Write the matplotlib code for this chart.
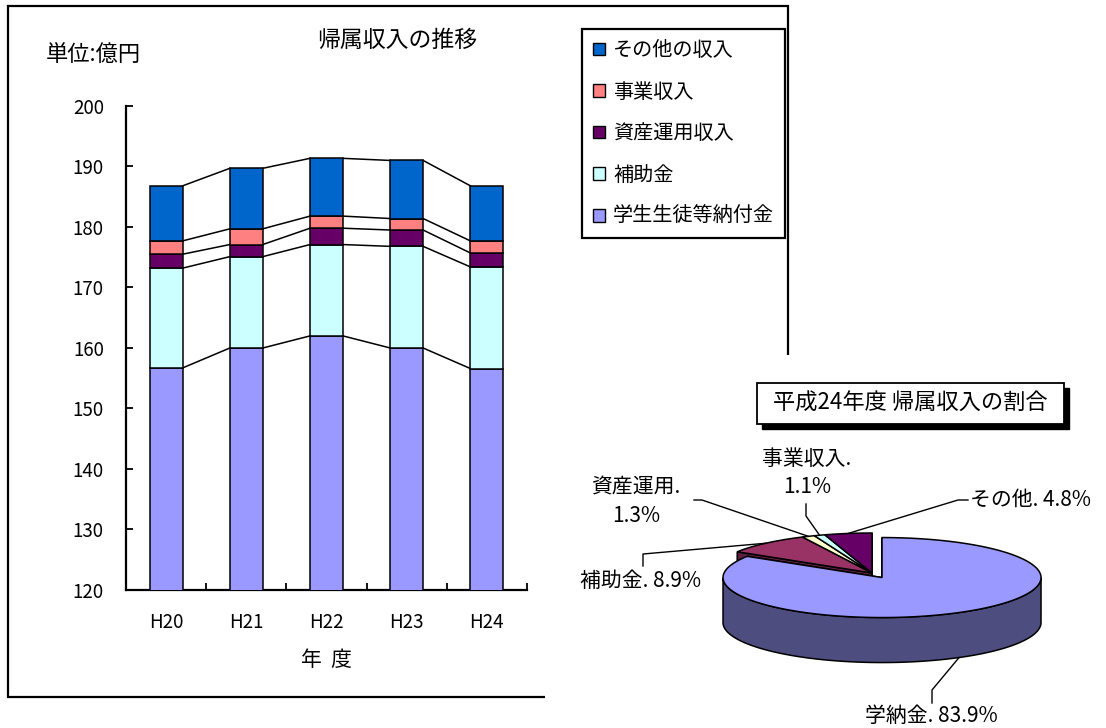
import matplotlib
matplotlib.use('Agg')
import matplotlib.pyplot as plt
import numpy as np
from matplotlib.patches import Polygon, Rectangle
from matplotlib.colors import to_rgb

plt.rcParams['font.family'] = ['Noto Sans CJK JP', 'DejaVu Sans']

# ---------------- data ----------------
years = ['H20', 'H21', 'H22', 'H23', 'H24']
series_names = ['学生生徒等納付金', '補助金', '資産運用収入', '事業収入', 'その他の収入']
tuition = [156.7, 160.0, 162.0, 160.0, 156.6]
subsidy = [16.5, 15.1, 15.1, 16.8, 16.8]
asset = [2.3, 2.0, 2.7, 2.7, 2.3]
business = [2.2, 2.6, 2.0, 1.9, 2.0]
other = [9.1, 10.0, 9.55, 9.6, 9.1]
bar_colors = ['#9999FF', '#CCFFFF', '#660066', '#FF8080', '#0066CC']

yticks = [120, 130, 140, 150, 160, 170, 180, 190, 200]

pie_title = '平成24年度 帰属収入の割合'
pie_labels = ['学納金', '補助金', '資産運用', '事業収入', 'その他']
pie_values = [83.9, 8.9, 1.3, 1.1, 4.8]
pie_colors = ['#9999FF', '#993366', '#FFFFCC', '#CCFFFF', '#660066']
pie_explode = [0.13, 0, 0, 0, 0]
pie_label_break = [False, False, True, True, False]

# ---------------- figure ----------------
W, H = 1106, 728
fig = plt.figure(figsize=(W / 100, H / 100), dpi=100)

# background overlay in pixel coordinates (frame)
bg = fig.add_axes([0, 0, 1, 1], zorder=0)
bg.set_xlim(0, W)
bg.set_ylim(H, 0)
bg.axis('off')
bg.plot([545, 8, 8, 788, 788], [697, 697, 6, 6, 355], color='black', lw=1.6,
        solid_joinstyle='miter', solid_capstyle='butt')

# ---------------- stacked bar chart ----------------
ax = fig.add_axes([126 / W, 1 - 590 / H, 401 / W, 484 / H], zorder=2)
ax.patch.set_alpha(0)
x = np.arange(len(years))
bw = 0.41
stack = [tuition, subsidy, asset, business, other]
bottom = np.zeros(len(years))
tops = []
handles = []
for vals, c, name in zip(stack, bar_colors, series_names):
    b = ax.bar(x, vals, bw, bottom=bottom, color=c, edgecolor='black',
               linewidth=1.1, label=name, zorder=3)
    handles.append(b)
    bottom = bottom + np.array(vals)
    tops.append(bottom.copy())
for t in tops:
    for i in range(len(years) - 1):
        ax.plot([x[i] + bw / 2, x[i + 1] - bw / 2], [t[i], t[i + 1]],
                color='black', lw=1.1, zorder=2)

ax.set_ylim(120, 200)
ax.set_xlim(-0.5, len(years) - 0.5)
ax.set_yticks(yticks)
ax.set_yticklabels([str(v) for v in yticks], fontsize=13.5)
ax.set_xticks(x)
ax.set_xticklabels(years, fontsize=13.5)
ax.set_xticks(list(x + 0.5), minor=True)
ax.tick_params(axis='y', direction='in', length=5, width=1.3, pad=16)
ax.tick_params(axis='x', which='major', length=0, pad=16)
ax.tick_params(axis='x', which='minor', direction='in', length=5, width=1.3)
for s in ['top', 'right']:
    ax.spines[s].set_visible(False)
for s in ['left', 'bottom']:
    ax.spines[s].set_linewidth(1.6)
ax.set_xlabel('年  度', fontsize=15, labelpad=11)

fig.text(397 / W, 1 - 40 / H, '帰属収入の推移', fontsize=16.5, ha='center', va='center')
fig.text(46 / W, 1 - 55 / H, '単位:億円', fontsize=16, ha='left', va='center')

leg = fig.legend(handles[::-1], series_names[::-1], loc='upper left',
                 bbox_to_anchor=(582 / W, 1 - 29 / H), bbox_transform=fig.transFigure,
                 fontsize=14.5, frameon=True, fancybox=False, edgecolor='black',
                 framealpha=1, borderpad=0.55, handlelength=0.6, handleheight=0.6,
                 handletextpad=0.4, labelspacing=1.02, borderaxespad=0)
leg.get_frame().set_linewidth(1.6)
for p in leg.get_patches():
    p.set_linewidth(1.0)

# ---------------- 3D pie chart ----------------
S = 159.0          # pixels per radius unit
CX, CY = 872, 573  # pixel position of pie centre
tilt = 40 / S
depth = 45 / S
pax = fig.add_axes([560 / W, 0, (W - 560) / W, 1 - 370 / H], zorder=3)
pax.set_xlim((560 - CX) / S, (W - CX) / S)
pax.set_ylim((CY - H) / S, (CY - 370) / S)
pax.axis('off')


def P(px, py):
    return ((px - CX) / S, (CY - py) / S)


def ell(theta, cx, cy, dz=0.0):
    t = np.radians(theta)
    return np.column_stack([cx + np.cos(t), cy + tilt * np.sin(t) - dz])


def dark(c, f=0.5):
    r, g, b = to_rgb(c)
    return (r * f, g * f, b * f)


vals = np.array(pie_values, dtype=float)
n = len(vals)
spans = 360 * vals / vals.sum()
starts = 90 - np.concatenate([[0], np.cumsum(spans)[:-1]])
ends = starts - spans
mids = (starts + ends) / 2
centers = [(e * np.cos(np.radians(m)), e * tilt * np.sin(np.radians(m)))
           for e, m in zip(pie_explode, mids)]

lw = 1.1
order_back = [i for i in range(n) if np.sin(np.radians(mids[i])) > 0]
order_front = [i for i in range(n) if i not in order_back]


def draw_faces(i):
    cx, cy = centers[i]
    for a, nb in ((starts[i], (i - 1) % n), (ends[i], (i + 1) % n)):
        if pie_explode[nb] == pie_explode[i]:
            continue  # interior face, hidden
        e_top = ell(a, cx, cy)[0]
        e_bot = ell(a, cx, cy, depth)[0]
        pax.add_patch(Polygon([(cx, cy), e_top, e_bot, (cx, cy - depth)], closed=True,
                              fc=dark(pie_colors[i], 0.6), ec='black', lw=lw))


def draw_side(i):
    cx, cy = centers[i]
    th = np.linspace(starts[i], ends[i], 400)
    front = th[np.sin(np.radians(th)) <= 0]
    if len(front) > 1:
        top_arc = ell(front, cx, cy)
        bot_arc = ell(front[::-1], cx, cy, depth)
        pax.add_patch(Polygon(np.vstack([top_arc, bot_arc]), closed=True,
                              fc=dark(pie_colors[i], 0.5), ec='black', lw=lw))


def draw_top(i):
    cx, cy = centers[i]
    th = np.linspace(starts[i], ends[i], 400)
    arc = ell(th, cx, cy)
    pax.add_patch(Polygon(np.vstack([[cx, cy], arc]), closed=True,
                          fc=pie_colors[i], ec='black', lw=lw))


for i in order_back:
    draw_faces(i)
    draw_side(i)
for i in order_back:
    draw_top(i)
for i in order_front:
    draw_faces(i)
    draw_side(i)
    draw_top(i)

# title box with shadow
bx0, by0, bx1, by1 = 757, 383, 1064, 424
sx, sy = P(bx0 + 5, by1 + 5)
w_, h_ = (bx1 - bx0) / S, (by1 - by0) / S
pax.add_patch(Rectangle((sx, sy), w_, h_, fc='black', ec='black', clip_on=False))
x0, y0 = P(bx0, by1)
pax.add_patch(Rectangle((x0, y0), w_, h_, fc='white', ec='black', lw=1.3, clip_on=False))
tx, ty = P((bx0 + bx1) / 2, (by0 + by1) / 2)
pax.text(tx, ty, pie_title, fontsize=16, ha='center', va='center')

# labels and leader lines (layout positions in pixels)
label_pos = [(931, 716, 'center'), (641, 581, 'center'), (636, 502, 'center'),
             (807, 473, 'center'), (970, 500, 'left')]
leader_pts = [[(932, 703), (932, 690)], [(643, 566), (643, 554)],
              [(694, 500), (702, 500)], [(806, 504), (806, 516)],
              [(968, 500), (958, 500)]]
for i in range(n):
    cx, cy = centers[i]
    if i in order_back:
        end = ell(mids[i], cx, cy)[0]
    else:
        end = ell(mids[i], cx, cy, depth)[0]
    pts = [P(*p) for p in leader_pts[i]] + [tuple(end)]
    pax.plot([p[0] for p in pts], [p[1] for p in pts], color='black', lw=1.0,
             clip_on=False)
    sep = '.\n' if pie_label_break[i] else '. '
    txt = f'{pie_labels[i]}{sep}{pie_values[i]}%'
    px_, py_, ha = label_pos[i]
    pax.text(*P(px_, py_), txt, fontsize=15, ha=ha, va='center',
             multialignment='center', linespacing=1.4, clip_on=False)

fig.savefig('out.png', dpi=100)
